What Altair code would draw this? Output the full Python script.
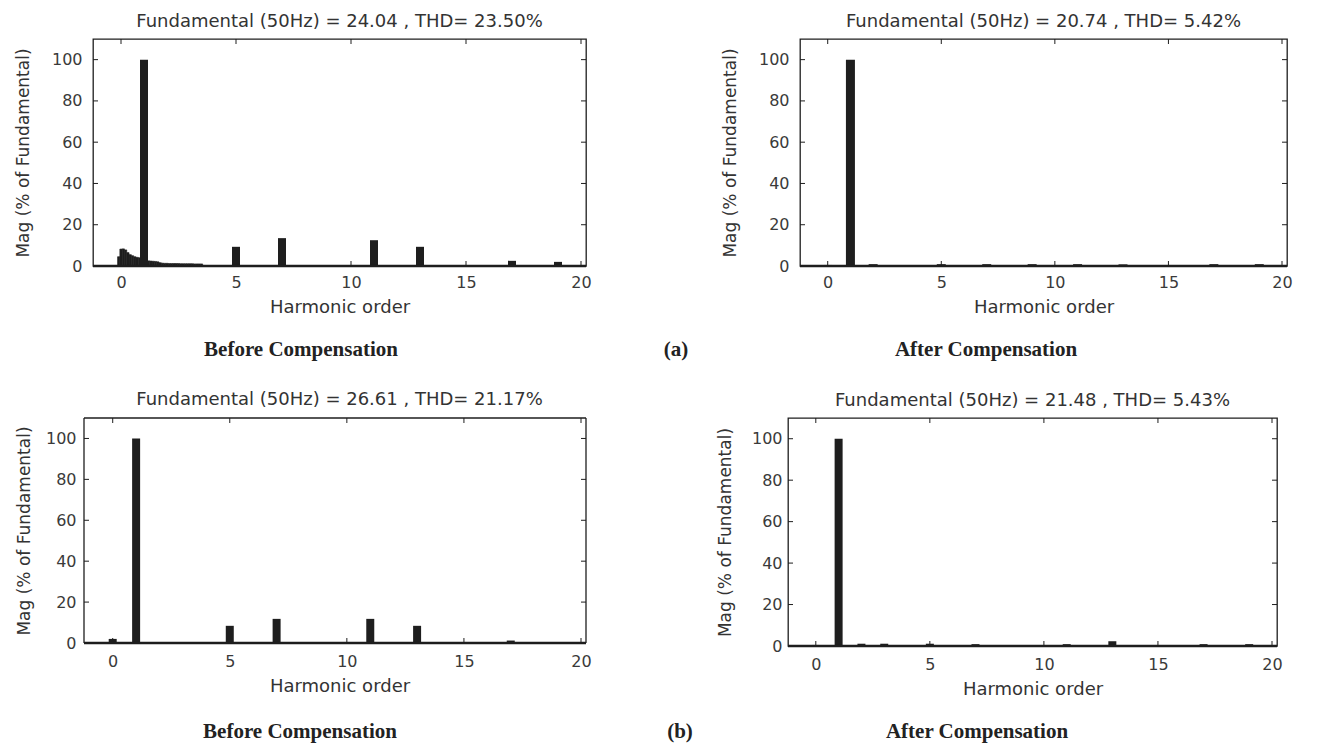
import altair as alt
import pandas as pd

SANS = "DejaVu Sans"
SERIF = "Liberation Serif"
INK = "#1e1e1e"
TXT = "#333333"

ORDER_TICKS = [0, 5, 10, 15, 20]
MAG_TICKS = [0, 20, 40, 60, 80, 100]

TITLES = [
    "Fundamental (50Hz) = 24.04 , THD= 23.50%",
    "Fundamental (50Hz) = 20.74 , THD= 5.42%",
    "Fundamental (50Hz) = 26.61 , THD= 21.17%",
    "Fundamental (50Hz) = 21.48 , THD= 5.43%",
]
CAPTIONS = ["Before Compensation", "After Compensation",
            "Before Compensation", "After Compensation"]
TAGS = ["(a)", "(b)"]

# (a) before compensation: harmonic bars
a_before_order = [1, 5, 7, 11, 13, 17, 19]
a_before_mag = [100, 9.3, 13.5, 12.5, 9.3, 2.5, 2.0]
# (a) before compensation: fine spectrum near the fundamental (0.1-order bins)
a_fine_order = [-0.1, 0.0, 0.1, 0.2, 0.3, 0.4, 0.5, 0.6, 0.7, 0.8, 0.9,
                1.1, 1.2, 1.3, 1.4, 1.5, 1.6, 1.7, 1.8, 1.9, 2.0,
                2.1, 2.2, 2.3, 2.4, 2.5, 2.6, 2.7, 2.8, 2.9, 3.0,
                3.1, 3.2, 3.3, 3.4, 3.5]
a_fine_mag = [4.5, 8.2, 8.3, 7.8, 6.5, 5.5, 5.0, 4.5, 4.2, 4.0, 3.8,
              2.6, 2.5, 2.4, 2.3, 2.2, 2.0, 1.6, 1.4, 1.3, 1.3,
              1.2, 1.2, 1.2, 1.2, 1.2, 1.1, 1.1, 1.1, 1.1, 1.1,
              1.1, 1.0, 1.0, 1.0, 1.0]

# (a) after compensation
a_after_order = [0, 1, 2, 5, 7, 9, 10, 11, 13, 15, 17, 19]
a_after_mag = [0.5, 100, 0.9, 0.9, 0.9, 0.9, 0.3, 0.9, 0.8, 0.3, 0.9, 0.9]

# (b) before compensation
b_before_order = [0, 1, 5, 7, 11, 13, 17, 19]
b_before_mag = [2.0, 100, 8.4, 11.8, 11.8, 8.4, 1.2, 0.3]

# (b) after compensation
b_after_order = [0, 1, 2, 3, 5, 7, 11, 13, 17, 19]
b_after_mag = [0.5, 100, 1.1, 1.1, 1.1, 0.9, 0.9, 2.3, 0.9, 0.9]


def panel(title, order, mag, w, h, caption, cap_x, cap_y, lab_pad, title_pad,
          xlab_pad, xtitle_pad, bar_size=8, fine=None, tag=None, tag_x=None,
          x_start=-1, frame_left=0):
    """frame_left < 0 draws the box that far left of the plot origin."""
    xs = alt.Scale(domain=[x_start, 20], nice=False, zero=False)
    ys = alt.Scale(domain=[0, 110], nice=False)
    xa = alt.Axis(values=ORDER_TICKS, title="Harmonic order", labelPadding=xlab_pad,
                  titlePadding=xtitle_pad, titleFontSize=18, grid=False, ticks=False,
                  domain=False)
    ya = alt.Axis(values=MAG_TICKS, title="Mag (% of Fundamental)", labelPadding=lab_pad,
                  titlePadding=title_pad, titleFontSize=17, grid=False, ticks=False,
                  domain=False)
    fl = frame_left

    layers = []
    if fine is not None:
        fdf = pd.DataFrame({"order": fine[0], "mag": fine[1]})
        layers.append(
            alt.Chart(fdf)
            .transform_calculate(x0="datum.order - 0.05", x1="datum.order + 0.05")
            .mark_bar(color=INK, stroke=INK, strokeWidth=0.6)
            .encode(x=alt.X("x0:Q", scale=xs, axis=xa), x2="x1:Q",
                    y=alt.Y("mag:Q", scale=ys, axis=ya), y2=alt.datum(0))
        )
    df = pd.DataFrame({"order": order, "mag": mag})
    layers.append(
        alt.Chart(df).mark_bar(size=bar_size, color=INK)
        .encode(x=alt.X("order:Q", scale=xs, axis=xa),
                y=alt.Y("mag:Q", scale=ys, axis=ya))
    )
    # thick baseline at zero
    layers.append(
        alt.Chart(pd.DataFrame({"z": [0]})).mark_rule(color=INK, strokeWidth=2.5)
        .encode(y=alt.Y("z:Q", scale=ys, axis=ya), x=alt.value(fl), x2=alt.value(w))
    )
    if fl != 0:
        box = pd.DataFrame({"k": [0]})
        for enc in (dict(x=alt.value(fl), x2=alt.value(w), y=alt.value(0)),
                    dict(x=alt.value(fl), x2=alt.value(w), y=alt.value(h)),
                    dict(x=alt.value(fl), y=alt.value(0), y2=alt.value(h)),
                    dict(x=alt.value(w), y=alt.value(0), y2=alt.value(h))):
            layers.append(alt.Chart(box).mark_rule(color=INK, strokeWidth=1.3).encode(**enc))
    # inward ticks on all four sides
    xt = pd.DataFrame({"t": ORDER_TICKS})
    yt = pd.DataFrame({"t": MAG_TICKS})
    layers.append(alt.Chart(xt).mark_rule(color=INK, strokeWidth=1)
                  .encode(x=alt.X("t:Q", scale=xs, axis=xa), y=alt.value(h), y2=alt.value(h - 5)))
    layers.append(alt.Chart(xt).mark_rule(color=INK, strokeWidth=1)
                  .encode(x=alt.X("t:Q", scale=xs, axis=xa), y=alt.value(0), y2=alt.value(5)))
    layers.append(alt.Chart(yt).mark_rule(color=INK, strokeWidth=1)
                  .encode(y=alt.Y("t:Q", scale=ys, axis=ya), x=alt.value(fl), x2=alt.value(fl + 5)))
    layers.append(alt.Chart(yt).mark_rule(color=INK, strokeWidth=1)
                  .encode(y=alt.Y("t:Q", scale=ys, axis=ya), x=alt.value(w), x2=alt.value(w - 5)))
    # caption below the panel
    layers.append(
        alt.Chart(pd.DataFrame({"c": [caption]}))
        .mark_text(font=SERIF, fontWeight="bold", fontSize=21, color="#222222")
        .encode(text="c:N", x=alt.value(cap_x), y=alt.value(cap_y))
    )
    if tag is not None:
        layers.append(
            alt.Chart(pd.DataFrame({"c": [tag]}))
            .mark_text(font=SERIF, fontWeight="bold", fontSize=21, color="#222222")
            .encode(text="c:N", x=alt.value(tag_x), y=alt.value(cap_y))
        )
    props = dict(
        width=w, height=h,
        title=alt.TitleParams(title, font=SANS, fontSize=18, fontWeight="normal",
                              color=TXT, offset=8),
    )
    if fl != 0:
        props["view"] = alt.ViewBackground(stroke=None)
    return alt.layer(*layers).properties(**props)


p1 = panel(TITLES[0], a_before_order, a_before_mag, 493, 227, CAPTIONS[0], 208, 311,
           11, 19, 8, 8, fine=(a_fine_order, a_fine_mag), tag=TAGS[0], tag_x=583)
p2 = panel(TITLES[1], a_after_order, a_after_mag, 487, 227, CAPTIONS[1], 186, 311,
           11, 19, 8, 8, bar_size=9)
p3 = panel(TITLES[2], b_before_order, b_before_mag, 493, 225, CAPTIONS[2], 207, 314,
           17, 12, 10, 8, tag=TAGS[1], tag_x=587, x_start=-0.628, frame_left=-9)
p4 = panel(TITLES[3], b_after_order, b_after_mag, 489, 228, CAPTIONS[3], 189, 314,
           6, 17, 10, 8)

row1 = alt.hconcat(p1, p2, spacing=31)
row2 = alt.hconcat(p3, p4, spacing=22)

chart = (
    alt.concat(row1, row2, columns=1, spacing=29, background="white",
               padding={"top": 3, "left": 5, "right": 5, "bottom": 5})
    .configure_view(stroke=INK, strokeWidth=1.3)
    .configure_axis(labelFont=SANS, labelFontSize=16, labelColor="#3a3a3a",
                    titleFont=SANS, titleColor=TXT, titleFontWeight="normal")
)

chart.save("out.html", embed_options={"renderer": "svg", "actions": False})
